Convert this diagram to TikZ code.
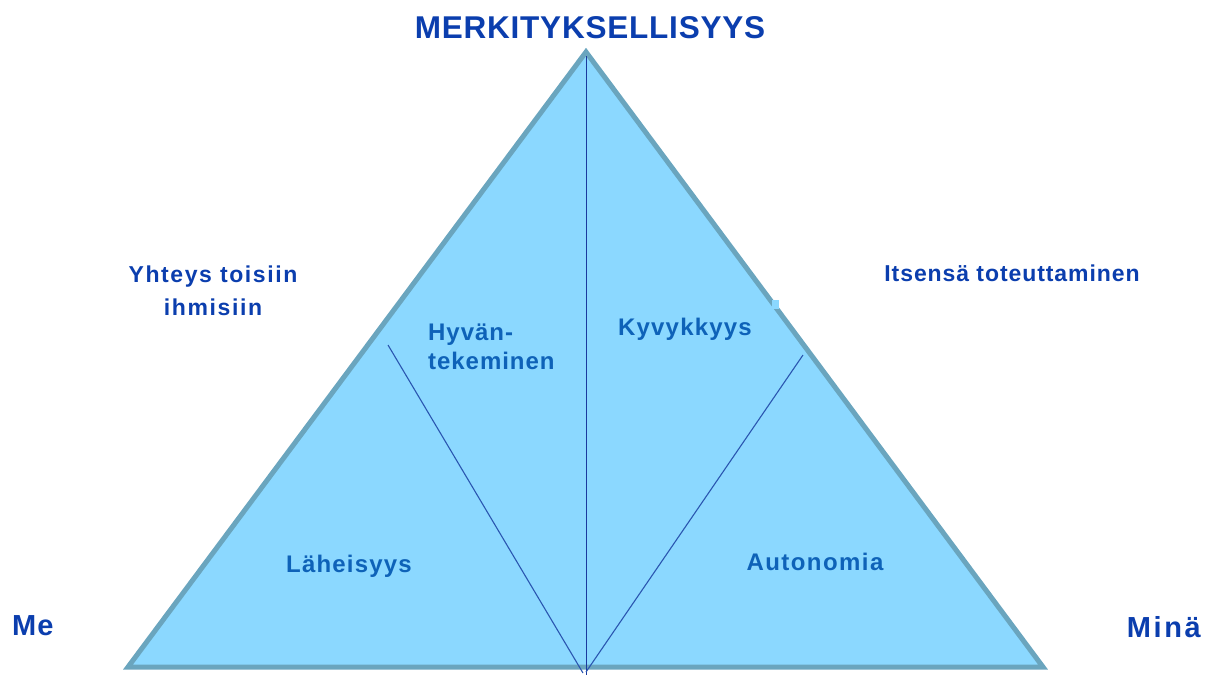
\documentclass[tikz,border=0pt]{standalone}
\usepackage{fontspec}
\setmainfont{Liberation Sans}
\begin{document}
\begin{tikzpicture}[x=1pt,y=-1pt,
  darklabel/.style 2 args={text=titleblue,inner sep=0pt,
    font=\bfseries\fontsize{#1}{#1}\selectfont\addfontfeatures{LetterSpace=#2}},
  innerlabel/.style={text=innerblue,inner sep=0pt,
    font=\bfseries\fontsize{24}{30}\selectfont\addfontfeatures{LetterSpace=#1}},
  innerlabel/.default=5,
  divider/.style={draw=lineblue,line width=1.1pt},
]
\definecolor{titleblue}{HTML}{0B3EAE}
\definecolor{innerblue}{HTML}{0E62B8}
\definecolor{trifill}{HTML}{8BD8FF}
\definecolor{triedge}{HTML}{6AA5BE}
\definecolor{lineblue}{HTML}{2A56B0}
\definecolor{axisblue}{HTML}{1A3A9E}

\useasboundingbox (0,0) rectangle (1211,675);

% corners of the pyramid
\coordinate (apex) at (586,52);
\coordinate (bl) at (128,667);
\coordinate (br) at (1043,667);

% the filled triangle
\filldraw[fill=trifill,draw=triedge,line width=5pt,line join=miter] (apex) -- (br) -- (bl) -- cycle;
\fill[trifill] (772,300) rectangle (779,309);

% dividing lines
\coordinate (vtop) at (586.5,56);
\coordinate (vbot) at (586.5,675);
\coordinate (ltop) at (388,345);
\coordinate (lbot) at (583,673);
\coordinate (rtop) at (803,355);
\coordinate (rbot) at (586,672);
\draw[draw=axisblue,line width=1.3pt] (vtop) -- (vbot);
\draw[divider] (ltop) -- (lbot);
\draw[divider] (rtop) -- (rbot);

% corner and side labels
\node[darklabel={31.5}{2.5},anchor=base] (title) at (590,38) {MERKITYKSELLISYYS};
\node[darklabel={29}{4},anchor=base west] (me) at (12,635) {Me};
\node[darklabel={29}{9},anchor=base east] (mina) at (1201,637) {Minä};
\node[darklabel={23}{7},anchor=base] (yhteys) at (213,282) {Yhteys toisiin};
\node[darklabel={23}{7},anchor=base] (ihmisiin) at (213,315) {ihmisiin};
\node[darklabel={23}{4},anchor=base] (itsensa) at (1012,281) {Itsensä toteuttaminen};

% inner labels
\node[innerlabel=4,anchor=base west] (hyvan) at (428,340) {Hyvän-};
\node[innerlabel=4,anchor=base west] (tekeminen) at (428,369) {tekeminen};
\node[innerlabel,anchor=base] (kyvykkyys) at (685,335) {Kyvykkyys};
\node[innerlabel,anchor=base] (laheisyys) at (349,572) {Läheisyys};
\node[innerlabel=6,anchor=base] (autonomia) at (815,570) {Autonomia};
\end{tikzpicture}
\end{document}
